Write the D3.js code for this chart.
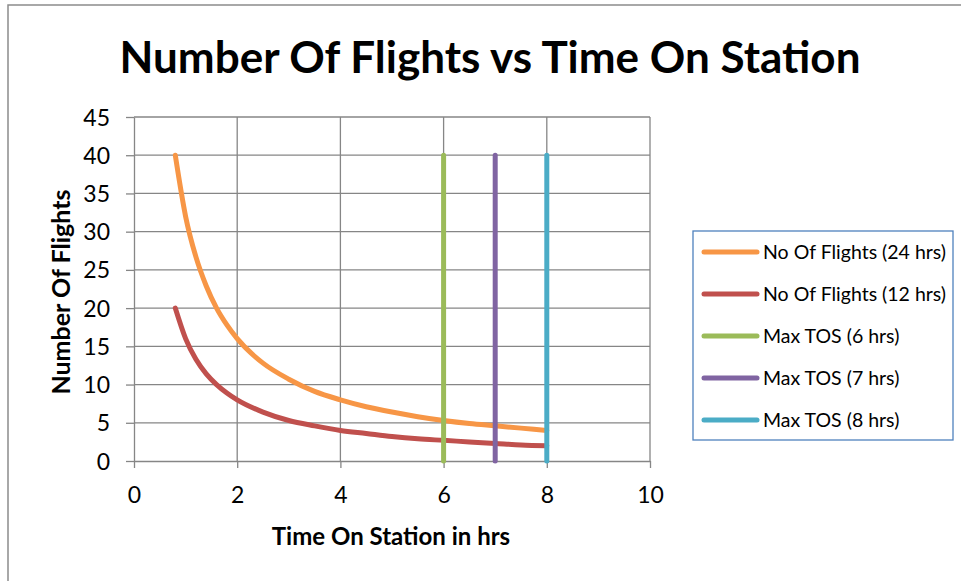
<!DOCTYPE html>
<html>
<head>
<meta charset="utf-8">
<script src="https://cdn.jsdelivr.net/npm/d3@7"></script>
<style>
  html, body { margin: 0; padding: 0; background: #fff; }
  svg { display: block; font-family: Lato, Carlito, Calibri, "Open Sans", sans-serif; }
</style>
</head>
<body>
<svg id="chart" width="961" height="581"></svg>
<script>
// Time on station (hrs) sampled along the curves
const hours = [0.8, 1, 1.2, 1.4, 1.6, 1.8, 2, 2.5, 3, 3.5, 4, 4.5, 5, 5.5, 6, 6.5, 7, 7.5, 8];
// Number of flights over a 24 hr day
const flights24 = [40, 32, 26.7, 22.9, 20, 17.8, 16, 12.8, 10.7, 9.1, 8, 7.1, 6.4, 5.8, 5.3, 4.9, 4.6, 4.3, 4];
// Number of flights over a 12 hr day
const flights12 = [20, 16, 13.3, 11.4, 10, 8.9, 8, 6.4, 5.3, 4.6, 4, 3.6, 3.2, 2.9, 2.7, 2.5, 2.3, 2.1, 2];
// Max time-on-station markers: x position and vertical extent
const maxTosHours = [6, 7, 8];
const maxTosRange = [0, 40];

const xTicks = [0, 2, 4, 6, 8, 10];
const yTicks = [0, 5, 10, 15, 20, 25, 30, 35, 40, 45];

const seriesNames = [
  "No Of Flights (24 hrs)",
  "No Of Flights (12 hrs)",
  "Max TOS (6 hrs)",
  "Max TOS (7 hrs)",
  "Max TOS (8 hrs)"
];
const seriesColors = ["#f79646", "#c0504d", "#9bbb59", "#8064a2", "#4bacc6"];

const svg = d3.select("#chart");

// outer chart border
svg.append("rect")
  .attr("x", 8).attr("y", 5)
  .attr("width", 980).attr("height", 600)
  .attr("fill", "#fff")
  .attr("stroke", "#8c8c8c").attr("stroke-width", 1.5);

const plot = { left: 134, right: 650, top: 117, bottom: 461 };

const x = d3.scaleLinear().domain([0, 10]).range([plot.left, plot.right]);
const y = d3.scaleLinear().domain([0, 45]).range([plot.bottom, plot.top]);

// title
svg.append("text")
  .attr("x", 490).attr("y", 73)
  .attr("text-anchor", "middle")
  .attr("font-size", 44).attr("font-weight", 700)
  .attr("fill", "#000")
  .text("Number Of Flights vs Time On Station");

// gridlines
const grid = svg.append("g").attr("stroke", "#868686").attr("stroke-width", 1.3);
grid.selectAll("line.h").data(yTicks.filter(d => d > 0)).join("line")
  .attr("x1", plot.left).attr("x2", plot.right)
  .attr("y1", d => y(d)).attr("y2", d => y(d));
grid.selectAll("line.v").data(xTicks.filter(d => d > 0)).join("line")
  .attr("y1", plot.top).attr("y2", plot.bottom)
  .attr("x1", d => x(d)).attr("x2", d => x(d));

// axes
const xAxis = svg.append("g")
  .attr("transform", `translate(0,${plot.bottom})`)
  .call(d3.axisBottom(x).tickValues(xTicks).tickSize(7).tickPadding(19).tickSizeOuter(0));
const yAxis = svg.append("g")
  .attr("transform", `translate(${plot.left},0)`)
  .call(d3.axisLeft(y).tickValues(yTicks).tickSize(8).tickPadding(16).tickSizeOuter(0));

[xAxis, yAxis].forEach(a => {
  a.selectAll("path.domain").attr("stroke", "#868686").attr("stroke-width", 1.3);
  a.selectAll(".tick line").attr("stroke", "#868686").attr("stroke-width", 1.3);
  a.selectAll(".tick text")
    .attr("font-family", "Lato, Carlito, Calibri, sans-serif")
    .attr("font-size", 23).attr("fill", "#000");
});
yAxis.selectAll(".tick text").attr("dy", "0.35em");
xAxis.selectAll(".tick text").attr("dy", "0.71em");

// axis titles
svg.append("text")
  .attr("x", 391).attr("y", 545)
  .attr("text-anchor", "middle")
  .attr("font-size", 24).attr("font-weight", 700)
  .text("Time On Station in hrs");
svg.append("text")
  .attr("transform", "translate(70,292) rotate(-90)")
  .attr("text-anchor", "middle")
  .attr("font-size", 25).attr("font-weight", 700)
  .text("Number Of Flights");

// curves
const line = d3.line()
  .x(d => x(d[0])).y(d => y(d[1]))
  .curve(d3.curveMonotoneX);

const curves = [flights24, flights12];
curves.forEach((vals, i) => {
  svg.append("path")
    .datum(hours.map((h, j) => [h, vals[j]]))
    .attr("d", line)
    .attr("fill", "none")
    .attr("stroke", seriesColors[i])
    .attr("stroke-width", 5)
    .attr("stroke-linecap", "round");
});

// vertical max-TOS markers
maxTosHours.forEach((h, i) => {
  svg.append("line")
    .attr("x1", x(h)).attr("x2", x(h))
    .attr("y1", y(maxTosRange[0])).attr("y2", y(maxTosRange[1]))
    .attr("stroke", seriesColors[i + 2])
    .attr("stroke-width", 5)
    .attr("stroke-linecap", "round");
});

// legend
const legend = svg.append("g");
legend.append("rect")
  .attr("x", 693).attr("y", 231)
  .attr("width", 260).attr("height", 209)
  .attr("fill", "#fff")
  .attr("stroke", "#4f81bd").attr("stroke-width", 1.3);

const items = legend.selectAll("g.item").data(seriesNames).join("g")
  .attr("transform", (d, i) => `translate(0,${252 + i * 42})`);
items.append("line")
  .attr("x1", 704).attr("x2", 757)
  .attr("stroke", (d, i) => seriesColors[i])
  .attr("stroke-width", 5)
  .attr("stroke-linecap", "round");
items.append("text")
  .attr("x", 763).attr("dy", "0.35em")
  .attr("font-size", 19.5)
  .attr("fill", "#000")
  .text(d => d);
</script>
</body>
</html>
